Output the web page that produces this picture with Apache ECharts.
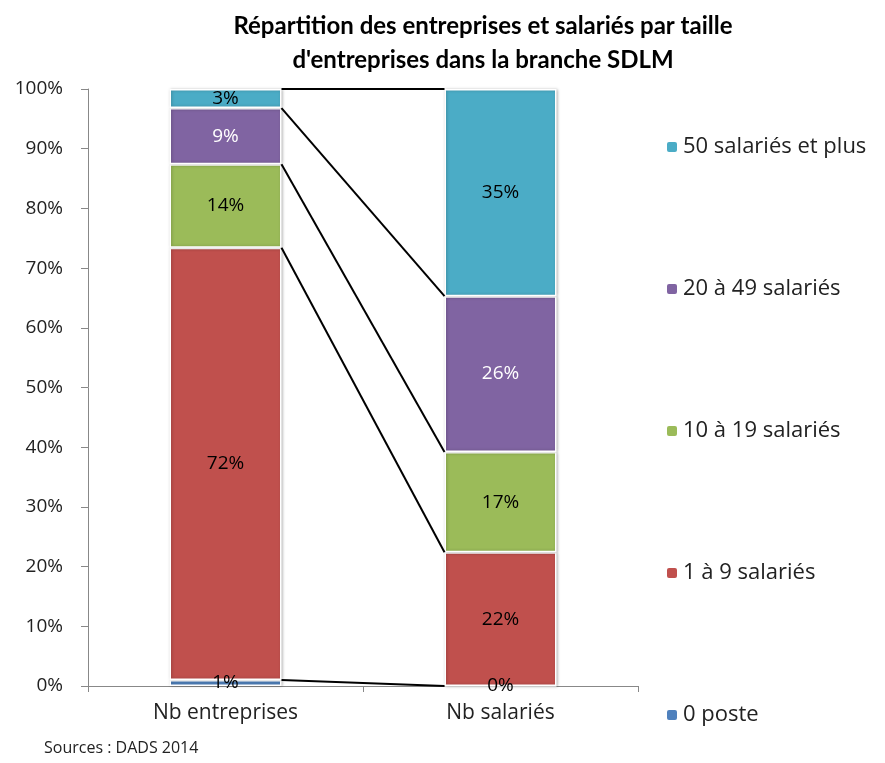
<!DOCTYPE html>
<html>
<head>
<meta charset="utf-8">
<script src="https://cdn.jsdelivr.net/npm/echarts@6/dist/echarts.min.js"></script>
<style>
  html, body { margin: 0; padding: 0; background: #fff; }
  #main { width: 885px; height: 763px; }
</style>
</head>
<body>
<div id="main"></div>
<script>
// categories and values (% of total)
var categories = ['Nb entreprises', 'Nb salariés'];
var seriesNames = ['0 poste', '1 à 9 salariés', '10 à 19 salariés', '20 à 49 salariés', '50 salariés et plus'];
var poste0 = [1.0, 0];
var sal1a9 = [72.4, 22.4];
var sal10a19 = [14.0, 16.8];
var sal20a49 = [9.4, 26.1];
var sal50plus = [3.2, 34.7];
var colors = ['#4F81BD', '#C0504D', '#9BBB59', '#8064A2', '#4BACC6'];
var labelColors = ['#000', '#000', '#000', '#fff', '#000'];

var FONT = 'Open Sans';
var TITLE_FONT = 'Lato';
var BAR_W = 112;

var allValues = [poste0, sal1a9, sal10a19, sal20a49, sal50plus];

// cumulative tops for the connector lines
var connectors = [];
var cumA = 0, cumB = 0;
allValues.forEach(function (vals) {
    cumA += vals[0];
    cumB += vals[1];
    connectors.push([0, cumA, cumB]);
});

var chart = echarts.init(document.getElementById('main'));

var series = allValues.map(function (vals, i) {
    return {
        name: seriesNames[i],
        type: 'bar',
        stack: 'total',
        barWidth: BAR_W,
        data: vals,
        itemStyle: {
            color: colors[i],
            borderColor: '#fff',
            borderWidth: 1.5,
            shadowColor: 'rgba(0,0,0,0.25)',
            shadowBlur: 3,
            shadowOffsetX: 1
        },
        label: {
            show: true,
            position: 'inside',
            fontFamily: FONT,
            fontSize: 19,
            color: labelColors[i],
            formatter: function (p) { return Math.round(p.value) + '%'; }
        },
        emphasis: { disabled: true }
    };
});

series.push({
    type: 'custom',
    name: 'lines',
    silent: true,
    z: 5,
    encode: { x: 0, y: [1, 2] },
    data: connectors,
    renderItem: function (params, api) {
        var p1 = api.coord([0, api.value(1)]);
        var p2 = api.coord([1, api.value(2)]);
        return {
            type: 'line',
            shape: { x1: p1[0] + BAR_W / 2, y1: p1[1], x2: p2[0] - BAR_W / 2, y2: p2[1] },
            style: { stroke: '#000', lineWidth: 2 }
        };
    }
});

var option = {
    animation: false,
    textStyle: { fontFamily: FONT },
    title: {
        text: 'Répartition des entreprises et salariés par taille\nd\'entreprises dans la branche SDLM',
        left: 478,
        textAlign: 'center',
        top: 4,
        textStyle: { fontFamily: TITLE_FONT, fontSize: 24, fontWeight: 'bold', color: '#000', lineHeight: 34 }
    },
    legend: {
        orient: 'vertical',
        left: 660,
        top: 130,
        itemWidth: 12,
        itemHeight: 12,
        itemGap: 118,
        data: seriesNames.slice().reverse(),
        textStyle: { fontFamily: FONT, fontSize: 22, color: '#222', lineHeight: 24 },
        selectedMode: false
    },
    grid: { left: 88, right: 247, top: 89, bottom: 77 },
    xAxis: {
        type: 'category',
        data: categories,
        axisLine: { lineStyle: { color: '#888', width: 1 } },
        axisTick: { show: true, length: 6, lineStyle: { color: '#888' } },
        axisLabel: { fontFamily: FONT, fontSize: 21, color: '#222', margin: 17 }
    },
    yAxis: {
        type: 'value',
        min: 0,
        max: 100,
        interval: 10,
        axisLine: { show: true, lineStyle: { color: '#888', width: 1 } },
        axisTick: { show: true, length: 7, lineStyle: { color: '#888' } },
        splitLine: { show: false },
        axisLabel: { fontFamily: FONT, fontSize: 19, color: '#222', margin: 25, formatter: '{value}%' }
    },
    graphic: [{
        type: 'text',
        left: 44,
        top: 740,
        style: { text: 'Sources : DADS 2014', font: '16px ' + FONT, fill: '#222' }
    }],
    series: series
};

chart.setOption(option);
</script>
</body>
</html>
